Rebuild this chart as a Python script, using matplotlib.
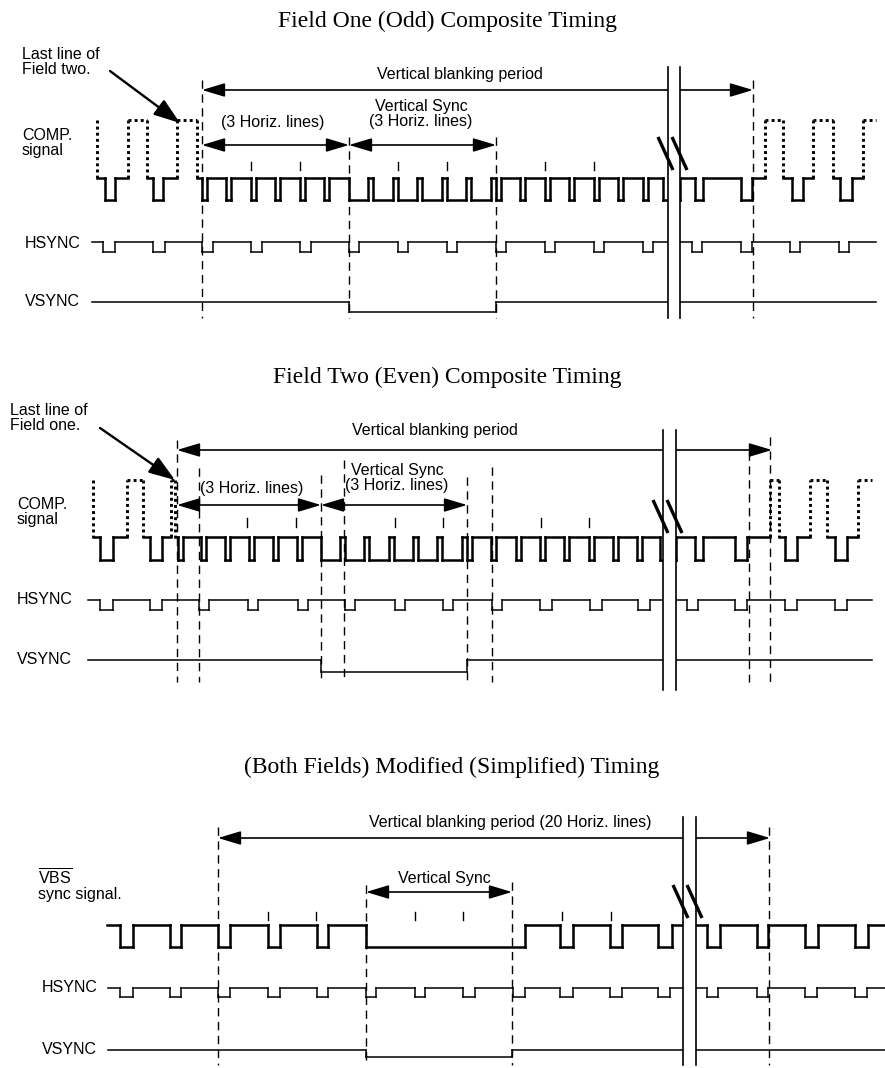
import matplotlib
matplotlib.use('Agg')
import matplotlib.pyplot as plt
from matplotlib.patches import Rectangle

plt.rcParams['font.family'] = ['Liberation Sans', 'DejaVu Sans']
plt.rcParams['mathtext.fontset'] = 'custom'
plt.rcParams['mathtext.rm'] = 'Liberation Sans'

# ---------------- data (pixel coords) ----------------
# levels: V = active video (dotted), B = blanking, S = sync tip
F1_COMP_START = (97, 'V')
F1_COMP = [(97, 'B'), (105, 'S'), (115, 'B'), (128, 'V'), (147, 'B'), (153, 'S'), (163, 'B'),
           (177, 'V'), (197, 'B'),
           (202, 'S'), (207, 'B'), (226, 'S'), (231, 'B'), (251, 'S'), (256, 'B'),
           (275, 'S'), (280, 'B'), (300, 'S'), (305, 'B'), (324, 'S'), (329, 'B'),
           (349, 'S'), (368, 'B'), (373, 'S'), (393, 'B'), (398, 'S'), (417, 'B'),
           (422, 'S'), (442, 'B'), (447, 'S'), (466, 'B'), (471, 'S'), (491, 'B'),
           (496, 'S'), (501, 'B'), (520, 'S'), (525, 'B'), (545, 'S'), (550, 'B'),
           (569, 'S'), (574, 'B'), (594, 'S'), (599, 'B'), (618, 'S'), (623, 'B'),
           (643, 'S'), (648, 'B'), (663, 'S'),
           (680, 'B'), (695, 'S'), (703, 'B'), (741, 'S'), (752, 'B'), (765, 'V'), (783, 'B'),
           (792, 'S'), (803, 'B'), (813, 'V'), (833, 'B'), (840, 'S'), (852, 'B'), (863, 'V')]
F1_HSYNC = [(103, 115), (153, 165), (202, 213), (251, 262), (300, 311), (349, 359),
            (398, 408), (447, 457), (496, 506), (545, 555), (594, 604), (643, 653),
            (692, 702), (741, 752), (790, 800), (839, 849)]
F1_VSYNC = [(349, 496)]
F1_TICKS = [251, 300, 398, 447, 545, 594]
F1_DASH = [(202, 80), (349, 137), (496, 137), (753, 80)]

F2_COMP_START = (93, 'V')
F2_COMP = [(93, 'B'), (100, 'S'), (113, 'B'), (127, 'V'), (143, 'B'), (150, 'S'), (162, 'B'),
           (171, 'V'), (175, 'B'),
           (178, 'S'), (183, 'B'), (201, 'S'), (206, 'B'), (225, 'S'), (230, 'B'),
           (249, 'S'), (254, 'B'), (273, 'S'), (278, 'B'), (297, 'S'), (302, 'B'),
           (321, 'S'), (340, 'B'), (345, 'S'), (364, 'B'), (369, 'S'), (389, 'B'),
           (394, 'S'), (413, 'B'), (418, 'S'), (437, 'B'), (442, 'S'), (462, 'B'),
           (467, 'S'), (472, 'B'), (491, 'S'), (496, 'B'), (516, 'S'), (521, 'B'),
           (540, 'S'), (545, 'B'), (564, 'S'), (569, 'B'), (589, 'S'), (594, 'B'),
           (613, 'S'), (618, 'B'), (637, 'S'), (642, 'B'), (660, 'S'),
           (676, 'B'), (695, 'S'), (703, 'B'), (735, 'S'), (747, 'B'), (770, 'V'), (779, 'B'),
           (785, 'S'), (797, 'B'), (810, 'V'), (827, 'B'), (835, 'S'), (847, 'B'), (858, 'V')]
F2_HSYNC = [(100, 113), (150, 162), (199, 209), (248, 258), (298, 308), (345, 355),
            (395, 405), (443, 453), (492, 502), (540, 552), (590, 602), (638, 650),
            (687, 698), (735, 747), (785, 797), (835, 847)]
F2_VSYNC = [(321, 467)]
F2_TICKS = [247, 296, 395, 443, 541, 589]
F2_DASH = [(177, 440), (199, 468), (321, 475), (344, 460), (467, 477), (492, 467),
           (749, 452), (770, 437)]

F3_VBS = [(120, 133), (170, 181), (218, 230), (268, 280), (317, 328), (366, 525),
          (560, 573), (610, 622), (658, 672), (707, 720), (757, 768), (805, 818), (855, 868)]
F3_HSYNC = [(120, 133), (170, 181), (218, 230), (268, 280), (317, 328), (366, 376),
            (415, 425), (463, 475), (513, 525), (560, 573), (610, 622), (658, 670),
            (707, 718), (757, 768), (805, 817), (855, 867)]
F3_VSYNC = [(366, 512)]
F3_TICKS = [268, 316, 415, 463, 562, 611]
F3_DASH = [(218, 827), (366, 885), (512, 882), (769, 827)]

TITLES = ['Field One (Odd) Composite Timing',
          'Field Two (Even) Composite Timing',
          '(Both Fields) Modified (Simplified) Timing']


def pulses(p):
    ev = []
    for a, b in p:
        ev += [(a, 'S'), (b, 'B')]
    return ev


def wave(ax, start, events, end, lv, lw):
    x, cur = start
    pts = [(x, cur)]
    for ex, el in events:
        pts.append((ex, cur))
        pts.append((ex, el))
        cur = el
    pts.append((end, cur))
    for (x0, l0), (x1, l1) in zip(pts[:-1], pts[1:]):
        if x0 == x1 and l0 == l1:
            continue
        dot = 'V' in (l0, l1)
        ax.plot([x0, x1], [lv[l0], lv[l1]], color='black',
                lw=lw + (0.3 if dot else 0),
                ls=(0, (1, 1.1)) if dot else '-',
                solid_capstyle='projecting', solid_joinstyle='miter')


def arrow(ax, x0, x1, y, style='<|-|>'):
    ax.annotate('', xy=(x1, y), xytext=(x0, y),
                arrowprops=dict(arrowstyle=style + ',head_length=1.0,head_width=0.3',
                                color='black', lw=1.2, shrinkA=0, shrinkB=0,
                                mutation_scale=14))


def brk(ax, xa, xb, y0, y1, ys):
    ax.add_patch(Rectangle((xa, y0), xb - xa, y1 - y0, facecolor='white',
                           edgecolor='none', zorder=5))
    for x in (xa, xb):
        ax.plot([x, x], [y0, y1], color='black', lw=1.2, zorder=6)
    for dx in (-10, 4):
        ax.plot([xa + dx, xa + dx + 15], [ys, ys + 33], color='black', lw=2.4,
                zorder=7, solid_capstyle='butt')


def dashes(ax, lst, ybot):
    for x, yt in lst:
        ax.plot([x, x], [yt, ybot], color='black', lw=1.0, ls=(0, (6, 4)))


def ticks(ax, lst, y0, y1):
    for x in lst:
        ax.plot([x, x], [y0, y1], color='black', lw=1.0)


fig = plt.figure(figsize=(8.85, 10.68), dpi=100)
ax = fig.add_axes([0, 0, 1, 1])
ax.set_xlim(0, 885)
ax.set_ylim(1068, 0)
ax.axis('off')

fs = 11.5
tfont = dict(family='Liberation Serif', fontsize=17, ha='center', va='center')
ptr = dict(arrowstyle='-|>,head_length=1.0,head_width=0.35',
           color='black', lw=1.7, shrinkA=0, shrinkB=0, mutation_scale=16)

# ---------------- Field one ----------------
ax.text(447, 21, TITLES[0], **tfont)
ax.text(22, 62, 'Last line of\nField two.', fontsize=fs, va='center', linespacing=0.95)
ax.annotate('', xy=(180, 123), xytext=(110, 71), arrowprops=ptr)
ax.text(22, 143, 'COMP.\nsignal', fontsize=fs, va='center', linespacing=0.95)
ax.text(25, 244, 'HSYNC', fontsize=fs, va='center')
ax.text(25, 302, 'VSYNC', fontsize=fs, va='center')
ax.text(460, 75, 'Vertical blanking period', fontsize=fs, ha='center', va='center')
ax.text(273, 123, '(3 Horiz. lines)', fontsize=fs, ha='center', va='center')
ax.text(421, 114, 'Vertical Sync\n(3 Horiz. lines)', fontsize=fs, ha='center', va='center',
        linespacing=1.02)
arrow(ax, 202, 753, 90)
arrow(ax, 202, 349, 145)
arrow(ax, 349, 496, 145)
dashes(ax, F1_DASH, 318)
ticks(ax, F1_TICKS, 162, 170)
wave(ax, F1_COMP_START, F1_COMP, 876, dict(V=120, B=178, S=200), 1.8)
wave(ax, (92, 'B'), pulses(F1_HSYNC), 876, dict(B=242, S=252), 1.1)
wave(ax, (92, 'B'), pulses(F1_VSYNC), 876, dict(B=302, S=312), 1.1)
brk(ax, 668, 680, 67, 318, 137)

# ---------------- Field two ----------------
ax.text(447, 377, TITLES[1], **tfont)
ax.text(10, 418, 'Last line of\nField one.', fontsize=fs, va='center', linespacing=0.95)
ax.annotate('', xy=(175, 480), xytext=(100, 428), arrowprops=ptr)
ax.text(17, 512, 'COMP.\nsignal', fontsize=fs, va='center', linespacing=0.95)
ax.text(17, 600, 'HSYNC', fontsize=fs, va='center')
ax.text(17, 660, 'VSYNC', fontsize=fs, va='center')
ax.text(435, 430, 'Vertical blanking period', fontsize=fs, ha='center', va='center')
ax.text(252, 488, '(3 Horiz. lines)', fontsize=fs, ha='center', va='center')
ax.text(397, 478, 'Vertical Sync\n(3 Horiz. lines)', fontsize=fs, ha='center', va='center',
        linespacing=1.02)
arrow(ax, 177, 772, 450)
arrow(ax, 177, 321, 505)
arrow(ax, 321, 467, 505)
dashes(ax, F2_DASH, 682)
ticks(ax, F2_TICKS, 518, 527)
wave(ax, F2_COMP_START, F2_COMP, 872, dict(V=480, B=537, S=560), 1.8)
wave(ax, (88, 'B'), pulses(F2_HSYNC), 872, dict(B=600, S=610), 1.1)
wave(ax, (88, 'B'), pulses(F2_VSYNC), 872, dict(B=660, S=672), 1.1)
brk(ax, 663, 676, 430, 690, 500)

# ---------------- Both fields ----------------
ax.text(452, 767, TITLES[2], **tfont)
ax.text(38, 878, r'$\overline{\mathrm{VBS}}$', fontsize=fs, va='center')
ax.text(38, 895, 'sync signal.', fontsize=fs, va='center')
ax.text(42, 988, 'HSYNC', fontsize=fs, va='center')
ax.text(42, 1050, 'VSYNC', fontsize=fs, va='center')
ax.text(510, 823, 'Vertical blanking period (20 Horiz. lines)', fontsize=fs,
        ha='center', va='center')
ax.text(444, 878, 'Vertical Sync', fontsize=fs, ha='center', va='center')
arrow(ax, 218, 770, 838)
arrow(ax, 366, 512, 892)
dashes(ax, F3_DASH, 1065)
ticks(ax, F3_TICKS, 912, 920)
wave(ax, (107, 'B'), pulses(F3_VBS), 885, dict(B=925, S=947), 1.8)
wave(ax, (108, 'B'), pulses(F3_HSYNC), 885, dict(B=988, S=997), 1.1)
wave(ax, (108, 'B'), pulses(F3_VSYNC), 885, dict(B=1050, S=1057), 1.1)
brk(ax, 683, 696, 817, 1065, 885)

fig.savefig('out.png', dpi=100)
